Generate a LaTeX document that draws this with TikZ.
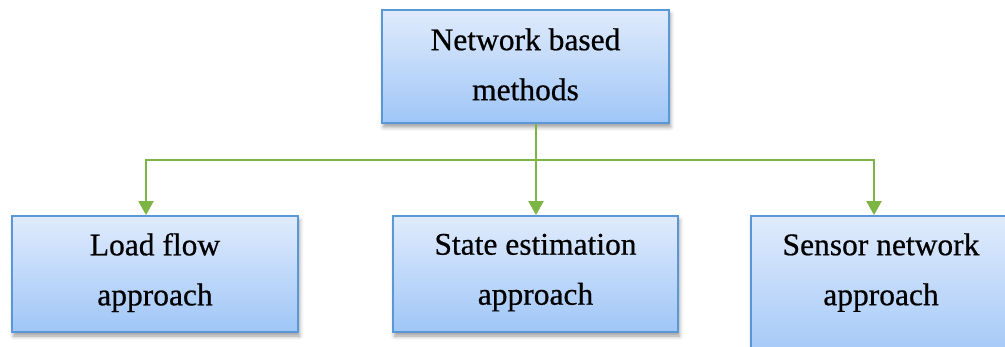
\documentclass[tikz,border=0pt]{standalone}
\usepackage{fontspec}
\setmainfont{Liberation Serif}[FakeBold=0.6]
\usetikzlibrary{arrows.meta,shadows,shadows.blur}
\definecolor{boxtop}{HTML}{E0EBFC}
\definecolor{boxbot}{HTML}{9FC6F7}
\definecolor{boxedge}{HTML}{5A97D6}
\definecolor{conngreen}{HTML}{7DB544}
\begin{document}
\begin{tikzpicture}[x=1pt,y=1pt,
  blockbox/.style={draw=boxedge, line width=1.8pt, top color=boxtop, bottom color=boxbot,
    align=center, font=\fontsize{31.5}{50}\selectfont, inner sep=0pt,
    blur shadow={shadow xshift=1.5pt, shadow yshift=-4pt, shadow blur radius=4pt, shadow opacity=40}},
  connline/.style={draw=conngreen, line width=2.2pt},
  arrline/.style={connline, -{Triangle[width=15pt,length=14pt]}}]
\useasboundingbox (0,0) rectangle (1005,346);
\node[blockbox, minimum width=287pt, minimum height=113pt, text depth=4.5pt] (t) at (525.5,279.5) {Network based\\methods};
\node[blockbox, minimum width=286pt, minimum height=116pt, text depth=9.5pt] (l) at (155,72) {Load flow\\approach};
\node[blockbox, minimum width=285pt, minimum height=116pt, text depth=9.5pt] (m) at (535.5,72) {State estimation\\approach};
\node[blockbox, minimum width=260pt, minimum height=150pt, text depth=43.5pt] (r) at (881,55) {Sensor network\\approach};
\coordinate (j) at (536,186);
\draw[connline] (t.south -| j) -- (j);
\draw[arrline] (j) -| ([xshift=-9pt]l.north);
\draw[arrline] (j) -- (m.north -| j);
\draw[arrline] (j) -| ([xshift=-7pt]r.north);
\end{tikzpicture}
\end{document}
